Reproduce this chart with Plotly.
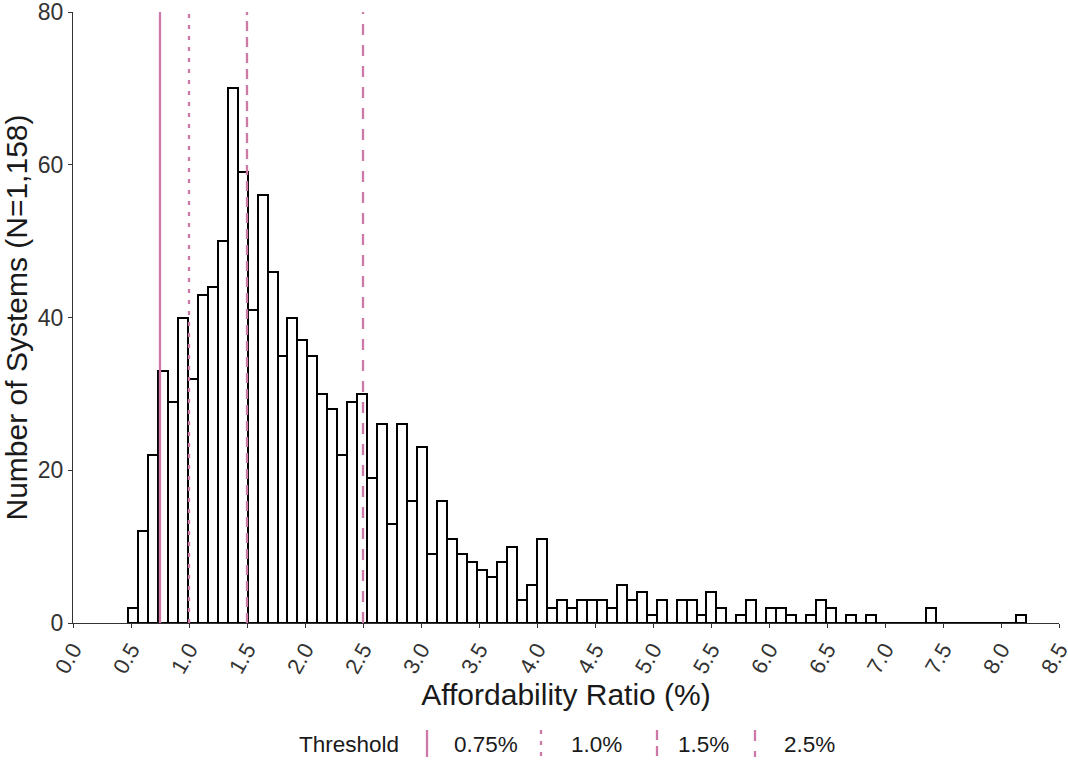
import plotly.graph_objects as go

# ---- data ----
bin_start = 0.473
bin_width = 0.086
counts = [2, 12, 22, 33, 29, 40, 32, 43, 44, 50,
          70, 59, 41, 56, 46, 35, 40, 37, 35, 30,
          28, 22, 29, 30, 19, 26, 13, 26, 16, 23,
          9, 16, 11, 9, 8, 7, 6, 8, 10, 3,
          5, 11, 2, 3, 2, 3, 3, 3, 2, 5,
          3, 4, 1, 3, 0, 3, 3, 1, 4, 2,
          0, 1, 3, 0, 2, 2, 1, 0, 1, 3,
          2, 0, 1, 0, 1, 0, 0, 0, 0, 0,
          2, 0, 0, 0, 0, 0, 0, 0, 0, 1]
thresholds = [0.75, 1.0, 1.5, 2.5]
threshold_labels = ["0.75%", "1.0%", "1.5%", "2.5%"]
threshold_dashes = ["solid", "4px,7px", "10px,6px", "11px,10px"]
x_ticks = [i * 0.5 for i in range(18)]
x_ticklabels = [f"{v:.1f}" for v in x_ticks]
y_ticks = [0, 20, 40, 60, 80]

PINK = "#CC79A7"
FONT = "Liberation Sans, Arial, sans-serif"

centers = [bin_start + bin_width * (i + 0.5) for i in range(len(counts))]

fig = go.Figure()
fig.add_trace(go.Bar(
    x=centers, y=counts, width=bin_width,
    marker=dict(color="white", line=dict(color="black", width=2)),
    showlegend=False, hoverinfo="x+y",
))

for t, d in zip(thresholds, threshold_dashes):
    fig.add_trace(go.Scatter(
        x=[t, t], y=[0, 80], mode="lines",
        line=dict(color=PINK, width=2.3, dash=d),
        showlegend=False, hoverinfo="skip",
    ))

# ---- geometry (viewport pixels; body margin removed via post_script) ----
L = 73      # plot-area left
W = 986
T = 12      # plot-area top
H = 611
FIG_W = 1068
FIG_H = 761


def px(xp):
    return (xp - L) / W


def py(yp):
    return (T + H - yp) / H


LEG_FONT = dict(size=22.5, color="#1a1a1a", family=FONT)
fig.add_annotation(x=px(297), y=py(744), xref="paper", yref="paper",
                   text="Threshold", showarrow=False, xanchor="left", yanchor="middle",
                   font=LEG_FONT)
glyph_x = [427, 541, 657, 755]
label_x = [452, 569, 676, 782]
for gx, lx, lab, d in zip(glyph_x, label_x, threshold_labels, threshold_dashes):
    fig.add_shape(type="line", xref="paper", yref="paper",
                  x0=px(gx), x1=px(gx), y0=py(730), y1=py(757),
                  line=dict(color=PINK, width=2.3, dash=d))
    fig.add_annotation(x=px(lx), y=py(744), xref="paper", yref="paper",
                       text=lab, showarrow=False, xanchor="left", yanchor="middle",
                       font=LEG_FONT)

fig.update_layout(
    width=FIG_W, height=FIG_H,
    margin=dict(l=L, r=FIG_W - L - W, t=T, b=FIG_H - T - H),
    plot_bgcolor="white", paper_bgcolor="white",
    font=dict(family=FONT, color="#1a1a1a"),
    bargap=0,
    showlegend=False,
)
fig.update_xaxes(
    range=[0, 8.5], tickmode="array", tickvals=x_ticks, ticktext=x_ticklabels,
    tickangle=-60, tickfont=dict(size=22, color="#333333"),
    ticks="outside", ticklen=4, tickcolor="#333333",
    showline=True, linecolor="#333333", linewidth=1.2,
    showgrid=False, zeroline=False, automargin=False,
    ticklabeloverflow="allow",
    title=dict(text="Affordability Ratio (%)", font=dict(size=30, color="#1a1a1a"), standoff=2),
)
fig.update_yaxes(
    range=[0, 80], tickmode="array", tickvals=y_ticks,
    tickfont=dict(size=23, color="#333333"),
    ticks="outside", ticklen=4, tickcolor="#333333",
    showline=True, linecolor="#333333", linewidth=1.2,
    showgrid=False, zeroline=False, automargin=False,
    ticklabeloverflow="allow",
    title=dict(text="Number of Systems (N=1,158)", font=dict(size=30, color="#1a1a1a"), standoff=2),
)

fig.write_html(
    "out.html",
    config={"displayModeBar": False},
    post_script="document.body.style.margin='0px';document.body.style.overflow='hidden';",
)
